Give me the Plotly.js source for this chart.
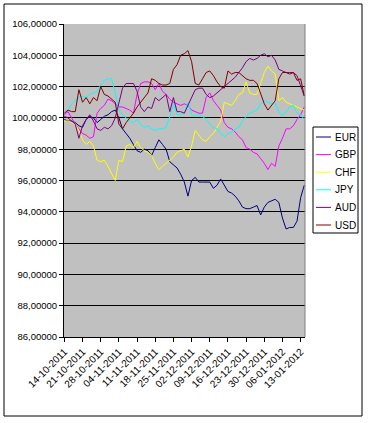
<!DOCTYPE html>
<html>
<head>
<meta charset="utf-8">
<script src="https://cdn.plot.ly/plotly-3.0.1.min.js"></script>
<style>html,body{margin:0;padding:0;background:#fff;}#chart{width:369px;height:423px;}</style>
</head>
<body>
<div id="chart"></div>
<script>
const dates = ["14-10-2011","17-10-2011","18-10-2011","19-10-2011","20-10-2011","21-10-2011","24-10-2011","25-10-2011","26-10-2011","27-10-2011","28-10-2011","31-10-2011","01-11-2011","02-11-2011","03-11-2011","04-11-2011","07-11-2011","08-11-2011","09-11-2011","10-11-2011","11-11-2011","14-11-2011","15-11-2011","16-11-2011","17-11-2011","18-11-2011","21-11-2011","22-11-2011","23-11-2011","24-11-2011","25-11-2011","28-11-2011","29-11-2011","30-11-2011","01-12-2011","02-12-2011","05-12-2011","06-12-2011","07-12-2011","08-12-2011","09-12-2011","12-12-2011","13-12-2011","14-12-2011","15-12-2011","16-12-2011","19-12-2011","20-12-2011","21-12-2011","22-12-2011","23-12-2011","26-12-2011","27-12-2011","28-12-2011","29-12-2011","30-12-2011","02-01-2012","03-01-2012","04-01-2012","05-01-2012","06-01-2012","09-01-2012","10-01-2012","11-01-2012","12-01-2012","13-01-2012","16-01-2012"];

const tickLabels = ["14-10-2011","21-10-2011","28-10-2011","04-11-2011","11-11-2011","18-11-2011","25-11-2011","02-12-2011","09-12-2011","16-12-2011","23-12-2011","30-12-2011","06-01-2012","13-01-2012"];

const eur = [99.9,99.8,99.8,99.7,99.5,99.4,99.9,100.1,100.0,99.7, 99.9,100.1,100.2,100.4,100.5,100.0,99.3,99.0,98.7,98.3, 97.9,97.8,98.0,97.9,97.6,98.1,98.6,98.3,98.0,97.2, 97.0,96.8,96.4,95.9,95.0,96.0,96.2,95.9,95.9,95.9, 95.9,95.5,95.7,96.1,95.7,95.3,95.2,95.0,94.7,94.3, 94.2,94.2,94.3,94.4,93.8,94.3,94.6,94.7,94.8,94.6, 93.6,92.9,93.0,93.0,93.4,94.9,95.7];
const gbp = [100.2,100.4,100.0,99.6,99.3,99.0,98.9,98.7,98.8,100.3, 100.6,100.8,101.2,101.1,100.9,100.7,100.7,100.6,100.5,100.3, 101.5,102.2,102.3,102.3,102.2,101.8,102.2,101.7,101.5,101.2, 101.0,100.9,100.8,100.9,100.8,100.5,100.4,100.3,100.3,101.3, 101.6,101.1,100.8,100.5,99.7,99.4,99.3,99.1,98.8,98.6, 98.1,98.0,97.8,97.7,97.4,97.1,96.7,97.1,96.9,98.2, 98.7,99.3,99.3,99.5,99.9,100.2,100.7];
const chf = [99.8,99.8,99.7,99.6,99.2,98.6,98.3,98.5,98.2,97.3, 97.2,97.3,96.9,96.4,96.0,97.3,97.2,98.2,98.3,98.1, 98.5,98.1,97.9,97.8,97.6,97.1,96.7,96.9,97.1,97.3, 97.5,97.8,97.9,98.0,97.5,98.2,99.2,98.9,98.6,98.5, 98.8,99.0,99.4,99.8,101.0,100.9,100.8,101.1,101.5,101.6, 102.3,101.6,101.5,101.5,102.2,102.9,103.3,103.0,102.8,101.1, 101.3,101.0,100.9,100.8,100.7,100.6,100.5];
const jpy = [100.3,100.5,100.9,101.1,101.3,101.4,101.3,101.5,101.6,101.7, 102.1,102.4,102.5,102.5,101.6,100.5,100.2,100.0,99.8,99.7, 99.9,99.6,99.4,99.5,99.3,99.2,99.3,99.3,99.4,100.1, 100.9,100.2,100.2,100.3,101.0,100.2,100.1,100.2,100.1,99.9, 99.6,99.4,99.3,99.0,98.8,99.0,99.1,99.3,99.4,99.8, 100.1,100.3,100.4,100.5,100.9,101.1,101.0,100.9,100.9,100.4, 100.1,100.4,100.7,100.8,100.3,100.2,99.9];
const aud = [100.1,100.0,99.8,99.6,98.7,99.5,99.9,100.2,99.8,99.3, 99.2,99.4,99.3,99.5,100.0,101.0,101.9,102.2,102.2,102.2, 101.7,100.7,100.4,100.7,100.6,101.3,101.1,101.3,101.5,100.4, 101.3,100.4,100.4,100.3,100.8,101.2,101.8,101.9,101.9,101.5, 101.3,101.4,101.6,101.8,102.0,102.2,102.4,102.6,102.9,103.2, 103.6,103.8,103.7,103.8,104.0,104.1,103.9,104.0,103.7,103.1, 103.0,102.9,102.9,102.9,102.7,102.1,101.4];
const usd = [100.3,100.5,100.4,100.4,101.8,101.0,101.3,100.9,101.3,101.1, 102.0,101.5,101.4,101.2,101.0,99.6,99.3,99.7,100.0,100.3, 100.7,101.0,101.3,101.6,102.5,102.4,102.2,102.1,102.1,102.2, 103.1,103.4,104.0,104.1,104.3,103.6,102.2,102.1,102.5,102.9, 103.0,102.7,102.3,102.0,101.9,103.0,102.8,102.9,102.9,102.7, 102.5,102.4,102.4,102.2,101.5,100.9,100.5,100.8,101.1,102.5, 102.9,102.9,102.8,102.9,102.4,102.5,101.4];

const seriesNames = ["EUR","GBP","CHF","JPY","AUD","USD"];
const seriesValues = [eur, gbp, chf, jpy, aud, usd];
const seriesColors = ["#000080","#FF00FF","#FFFF00","#00FFFF","#800080","#800000"];

const W = 369, H = 423;
const M = {l: 64, r: 64, t: 24, b: 86};
const PW = W - M.l - M.r, PH = H - M.t - M.b;
const px = x => (x - M.l) / PW;
const py = y => (H - M.b - y) / PH;

const traces = seriesNames.map((n, i) => ({
  type: "scatter", mode: "lines", name: n,
  x: dates, y: seriesValues[i],
  line: {color: seriesColors[i], width: 1}
}));

const shapes = [
  {type: "rect", xref: "paper", yref: "paper", x0: px(4), x1: px(362), y0: py(416), y1: py(4),
   line: {color: "#000", width: 1}, layer: "below"},
  {type: "line", xref: "paper", yref: "paper", x0: 1, x1: 1, y0: 0, y1: 1,
   line: {color: "#808080", width: 1}},
  {type: "rect", xref: "paper", yref: "paper", x0: px(313), x1: px(358), y0: py(233), y1: py(127),
   line: {color: "#000", width: 1}, fillcolor: "#fff"}
];
const annotations = [];
const legTop = 137, legStep = 17.6;
seriesNames.forEach((n, i) => {
  const yy = legTop + i * legStep;
  shapes.push({type: "line", xref: "paper", yref: "paper", x0: px(316), x1: px(331), y0: py(yy), y1: py(yy),
    line: {color: seriesColors[i], width: 1}});
  annotations.push({xref: "paper", yref: "paper", x: px(333), y: py(yy), text: n, showarrow: false,
    xanchor: "left", yanchor: "middle", font: {size: 10, color: "#000"}});
});

const layout = {
  width: W, height: H, margin: M,
  paper_bgcolor: "#fff", plot_bgcolor: "#C0C0C0",
  font: {family: "Liberation Sans, Arial, sans-serif", size: 10, color: "#000"},
  separators: ",.",
  showlegend: false,
  xaxis: {
    type: "category", range: [-0.1, 66.2],
    tickmode: "array", tickvals: tickLabels, ticktext: tickLabels,
    tickangle: -45, ticks: "outside", ticklen: 4, tickcolor: "#000",
    showline: true, linecolor: "#000", linewidth: 1,
    showgrid: false, zeroline: false, tickfont: {size: 10}
  },
  yaxis: {
    range: [86, 106], tick0: 86, dtick: 2, tickformat: ".5f",
    ticks: "outside", ticklen: 4, tickcolor: "#000",
    showline: true, linecolor: "#000", linewidth: 1,
    gridcolor: "#000", gridwidth: 1, zeroline: false, tickfont: {size: 9.5}
  },
  shapes: shapes,
  annotations: annotations
};

Plotly.newPlot("chart", traces, layout, {staticPlot: true, displayModeBar: false});
</script>
</body>
</html>
